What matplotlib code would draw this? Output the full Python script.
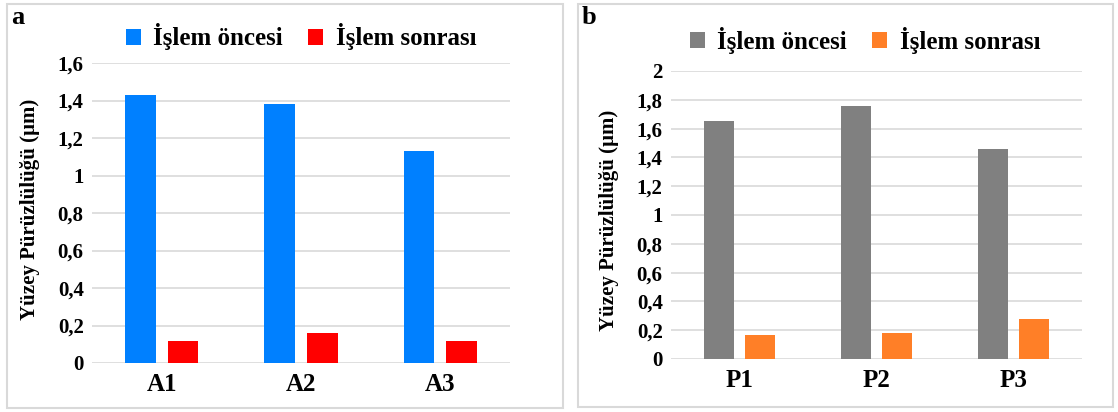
import numpy as np
import matplotlib
matplotlib.use("Agg")
import matplotlib.pyplot as plt
from matplotlib.patches import Rectangle
from matplotlib.ticker import FuncFormatter

plt.rcParams['font.family'] = ['Liberation Serif', 'DejaVu Serif']
plt.rcParams['font.weight'] = 'bold'
plt.rcParams['axes.labelweight'] = 'bold'

series_names = ["İşlem öncesi", "İşlem sonrası"]

cats_a = ["A1", "A2", "A3"]
before_a = [1.43, 1.38, 1.13]
after_a = [0.12, 0.16, 0.12]

cats_b = ["P1", "P2", "P3"]
before_b = [1.65, 1.76, 1.46]
after_b = [0.17, 0.18, 0.28]

ylabel = "Yüzey Pürüzlülüğü (µm)"
W, H = 1118, 412


def comma_fmt(v, pos):
    s = ("%.1f" % v).rstrip("0").rstrip(".")
    return s.replace(".", ",")


def draw_panel(ax, cats, before, after, colors, ymax, leg_xy):
    x = np.arange(len(cats))
    w = 0.22
    ax.bar(x - 0.152, before, w, color=colors[0], label=series_names[0], zorder=3)
    ax.bar(x + 0.152, after, w, color=colors[1], label=series_names[1], zorder=3)
    ax.set_xlim(-0.5, len(cats) - 0.5)
    ax.set_ylim(0, ymax)
    ax.set_yticks(np.arange(0, ymax + 0.01, 0.2))
    ax.yaxis.set_major_formatter(FuncFormatter(comma_fmt))
    ax.set_xticks(x)
    ax.set_xticklabels(cats, fontsize=18, fontweight='bold')
    ax.tick_params(axis='y', labelsize=15, length=0, pad=6)
    ax.tick_params(axis='x', length=0, pad=7)
    ax.grid(axis='y', color='#D9D9D9', lw=1.2, zorder=0)
    for s in ax.spines.values():
        s.set_visible(False)
    ax.legend(loc='center', bbox_to_anchor=leg_xy, bbox_transform=ax.figure.transFigure,
              ncol=2, frameon=False,
              prop={'family': ['Liberation Serif'], 'size': 18, 'weight': 'bold'},
              handlelength=0.6, handleheight=0.6, handletextpad=0.5, columnspacing=1.0)
    return ax


fig = plt.figure(figsize=(W / 100, H / 100), dpi=100)

# panel frames
fig.patches.append(Rectangle((7 / W, 1 - 408 / H), 556 / W, 404 / H,
                             transform=fig.transFigure, fill=False,
                             edgecolor='#D9D9D9', lw=1.5))
fig.patches.append(Rectangle((578 / W, 1 - 407 / H), 535 / W, 403 / H,
                             transform=fig.transFigure, fill=False,
                             edgecolor='#D9D9D9', lw=1.5))

ax1 = fig.add_axes([92 / W, 1 - 363 / H, 418 / W, 300 / H])
draw_panel(ax1, cats_a, before_a, after_a, ['#0080FF', '#FF0000'], 1.6,
           (301 / W, 1 - 37 / H))

ax2 = fig.add_axes([671 / W, 1 - 359 / H, 411 / W, 288 / H])
draw_panel(ax2, cats_b, before_b, after_b, ['#808080', '#FF7F27'], 2.0,
           (865 / W, 1 - 40 / H))

fig.text(30 / W, 1 - 209 / H, ylabel, rotation=90, fontsize=15,
         ha='center', va='center')
fig.text(609 / W, 1 - 220 / H, ylabel, rotation=90, fontsize=15,
         ha='center', va='center')

fig.text(11 / W, 1 - 18 / H, "a", fontsize=19, va='center', ha='left')
fig.text(582 / W, 1 - 18 / H, "b", fontsize=19, va='center', ha='left')

fig.savefig("out.png", dpi=100)
